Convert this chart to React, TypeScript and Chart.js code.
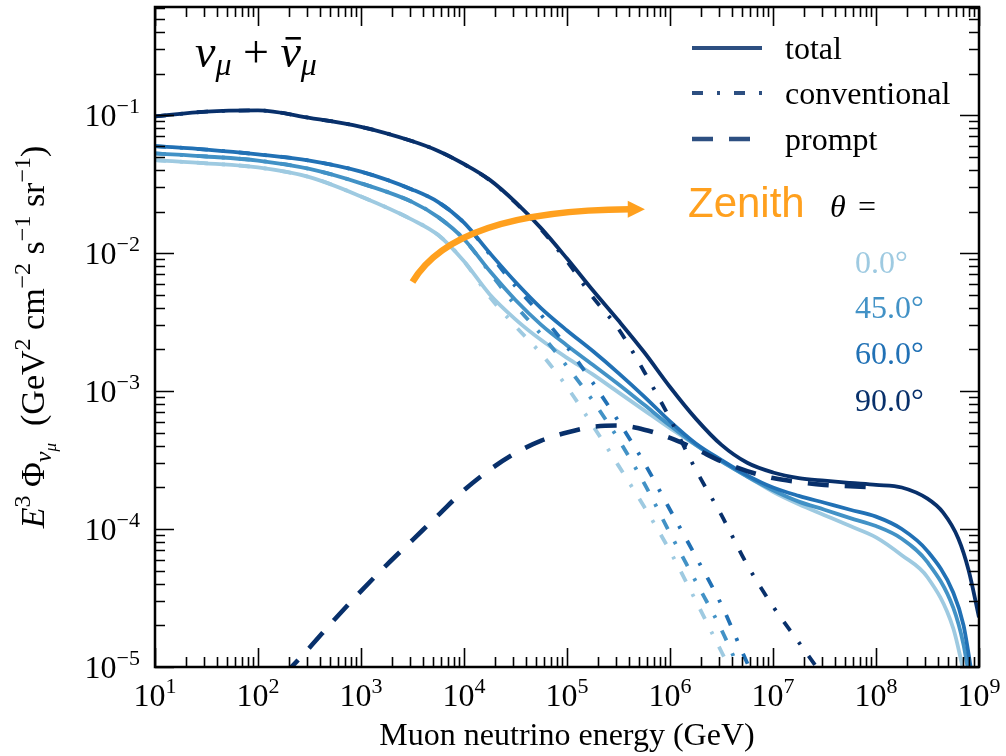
import React, { useEffect, useRef } from "react";
import { Chart, registerables } from "chart.js";

Chart.register(...registerables);

const W = 1006;
const H = 756;
const SERIF = '"Liberation Serif", "Times New Roman", Times, serif';
const SANS = '"Liberation Sans", Arial, Helvetica, sans-serif';

// ---- axes ----
const X_MIN = 10;
const X_MAX = 1e9;
const Y_MIN = 1e-5;
const Y_MAX = 0.607;
const X_TICK_EXPONENTS = [1, 2, 3, 4, 5, 6, 7, 8, 9];
const Y_TICK_EXPONENTS = [-5, -4, -3, -2, -1];
const X_TITLE = "Muon neutrino energy (GeV)";

// ---- labels / colours ----
const ANGLE_LABELS = ["0.0°", "45.0°", "60.0°", "90.0°"];
const ANGLE_COLORS = ["#9ecae1", "#4292c6", "#2171b5", "#08306b"];
const LEGEND_LABELS = ["total", "conventional", "prompt"];
const ORANGE = "#ffa01e";

// ---- data (energy in GeV, E^3 flux) ----
const E_TOTAL_90 = [1e1, 3.16e1, 1e2, 3.16e2, 1e3, 3.16e3, 5.62e3, 1e4, 1.78e4, 3.16e4, 5.62e4, 1e5, 1.78e5, 3.16e5, 5.62e5, 1e6, 1.78e6, 3.16e6, 5.62e6, 1e7, 1.78e7, 3.16e7, 5.62e7, 1e8, 1.78e8, 3.16e8, 4.47e8, 6.31e8, 7.94e8, 1e9];
const FLUX_TOTAL_90 = [0.0977, 0.106, 0.108, 0.0955, 0.0822, 0.0646, 0.055, 0.0442, 0.0339, 0.0234, 0.0151, 0.00912, 0.00537, 0.00324, 0.00191, 0.00107, 6.31e-4, 4.07e-4, 3.02e-4, 2.57e-4, 2.34e-4, 2.24e-4, 2.16e-4, 2.09e-4, 2.0e-4, 1.66e-4, 1.32e-4, 8.51e-5, 5.01e-5, 2.29e-5];

const E_CONV_90 = [1e1, 3.16e1, 1e2, 3.16e2, 1e3, 3.16e3, 5.62e3, 1e4, 1.78e4, 3.16e4, 5.62e4, 1e5, 1.78e5, 3.16e5, 5.62e5, 1e6, 1.78e6, 3.16e6, 5.62e6, 1e7, 1.78e7, 3.16e7];
const FLUX_CONV_90 = [0.0977, 0.106, 0.108, 0.0955, 0.0822, 0.0646, 0.055, 0.0441, 0.0337, 0.0232, 0.0148, 0.00871, 0.00479, 0.00282, 0.00138, 6.31e-4, 2.69e-4, 1.26e-4, 5.5e-5, 2.75e-5, 1.51e-5, 8.32e-6];

const E_PROMPT = [1.78e2, 3.16e2, 5.62e2, 1e3, 1.78e3, 3.16e3, 5.62e3, 1e4, 1.78e4, 3.16e4, 5.62e4, 1e5, 1.78e5, 3.16e5, 5.62e5, 1e6, 1.78e6, 3.16e6, 5.62e6, 1e7, 1.78e7, 3.16e7, 5.62e7, 1e8];
const FLUX_PROMPT = [8.71e-6, 1.38e-5, 2.24e-5, 3.55e-5, 5.5e-5, 8.32e-5, 1.26e-4, 1.91e-4, 2.69e-4, 3.55e-4, 4.37e-4, 5.01e-4, 5.5e-4, 5.62e-4, 5.25e-4, 4.57e-4, 3.8e-4, 3.09e-4, 2.63e-4, 2.34e-4, 2.19e-4, 2.09e-4, 2.04e-4, 2.0e-4];

const E_TOTAL_60 = [1e1, 3.16e1, 1e2, 3.16e2, 1e3, 3.16e3, 5.62e3, 1e4, 1.78e4, 3.16e4, 5.62e4, 1e5, 1.78e5, 3.16e5, 5.62e5, 1e6, 1.78e6, 3.16e6, 5.62e6, 1e7, 1.78e7, 3.16e7, 5.62e7, 1e8, 1.78e8, 3.16e8, 5.62e8, 7.08e8, 8.51e8];
const FLUX_TOTAL_60 = [0.0596, 0.0562, 0.0519, 0.0468, 0.0389, 0.0288, 0.0234, 0.0166, 0.01, 0.00617, 0.00398, 0.00275, 0.00195, 0.00135, 9.12e-4, 6.03e-4, 4.17e-4, 3.16e-4, 2.45e-4, 2.0e-4, 1.74e-4, 1.55e-4, 1.38e-4, 1.23e-4, 1.0e-4, 6.92e-5, 3.47e-5, 2.0e-5, 8.91e-6];

const E_CONV_60 = [1e1, 3.16e1, 1e2, 3.16e2, 1e3, 3.16e3, 5.62e3, 1e4, 1.78e4, 3.16e4, 5.62e4, 1e5, 1.78e5, 3.16e5, 5.62e5, 1e6, 1.78e6, 3.16e6, 5.62e6, 1e7];
const FLUX_CONV_60 = [0.0596, 0.0562, 0.0519, 0.0468, 0.0389, 0.0288, 0.0234, 0.0166, 0.00977, 0.00575, 0.00355, 0.00209, 0.00115, 6.03e-4, 3.02e-4, 1.38e-4, 6.31e-5, 2.82e-5, 1.07e-5, 4.47e-6];

const E_TOTAL_45 = [1e1, 3.16e1, 1e2, 3.16e2, 1e3, 3.16e3, 5.62e3, 1e4, 1.78e4, 3.16e4, 5.62e4, 1e5, 1.78e5, 3.16e5, 5.62e5, 1e6, 1.78e6, 3.16e6, 5.62e6, 1e7, 1.78e7, 3.16e7, 5.62e7, 1e8, 1.78e8, 3.16e8, 5.62e8, 7.08e8, 7.94e8];
const FLUX_TOTAL_45 = [0.0527, 0.0501, 0.0468, 0.0407, 0.032, 0.0234, 0.0182, 0.0126, 0.00741, 0.00457, 0.00302, 0.00214, 0.00155, 0.00112, 7.94e-4, 5.62e-4, 4.07e-4, 3.09e-4, 2.4e-4, 1.91e-4, 1.58e-4, 1.38e-4, 1.2e-4, 1.05e-4, 8.51e-5, 5.75e-5, 2.69e-5, 1.45e-5, 8.91e-6];

const E_CONV_45 = [1e1, 3.16e1, 1e2, 3.16e2, 1e3, 3.16e3, 5.62e3, 1e4, 1.78e4, 3.16e4, 5.62e4, 1e5, 1.78e5, 3.16e5, 5.62e5, 1e6, 1.78e6, 3.16e6, 5.62e6];
const FLUX_CONV_45 = [0.0527, 0.0501, 0.0468, 0.0407, 0.032, 0.0234, 0.0182, 0.0126, 0.00724, 0.00417, 0.00257, 0.00151, 8.51e-4, 4.47e-4, 2.14e-4, 9.33e-5, 4.17e-5, 1.86e-5, 7.08e-6];

const E_TOTAL_0 = [1e1, 3.16e1, 1e2, 3.16e2, 1e3, 3.16e3, 5.62e3, 1e4, 1.78e4, 3.16e4, 5.62e4, 1e5, 1.78e5, 3.16e5, 5.62e5, 1e6, 1.78e6, 3.16e6, 5.62e6, 1e7, 1.78e7, 3.16e7, 5.62e7, 1e8, 1.78e8, 3.16e8, 5.62e8, 7.08e8];
const FLUX_TOTAL_0 = [0.0471, 0.0447, 0.0417, 0.0355, 0.0257, 0.0174, 0.0135, 0.00871, 0.00501, 0.00331, 0.00234, 0.00174, 0.00132, 9.77e-4, 7.24e-4, 5.37e-4, 4.07e-4, 3.09e-4, 2.4e-4, 1.86e-4, 1.51e-4, 1.26e-4, 1.05e-4, 8.71e-5, 6.46e-5, 4.47e-5, 1.91e-5, 9.33e-6];

const E_CONV_0 = [1e1, 3.16e1, 1e2, 3.16e2, 1e3, 3.16e3, 5.62e3, 1e4, 1.78e4, 3.16e4, 5.62e4, 1e5, 1.78e5, 3.16e5, 5.62e5, 1e6, 1.78e6, 3.16e6, 5.62e6];
const FLUX_CONV_0 = [0.0471, 0.0447, 0.0417, 0.0355, 0.0257, 0.0174, 0.0135, 0.00871, 0.00479, 0.00295, 0.00186, 0.00107, 5.62e-4, 2.88e-4, 1.45e-4, 6.92e-5, 3.02e-5, 1.29e-5, 5.62e-6];

// ---- orange zenith arrow (data coordinates: start, control, end, tip) ----
const ARROW_START = [3.16e3, 6.17e-3];
const ARROW_CTRL = [8.13e3, 0.0204];
const ARROW_END = [3.89e5, 0.0208];
const ARROW_TIP = [5.71e5, 0.0208];

const SOLID_W = 3.8;
const CONV_W = 3.8;
const PROMPT_W = 4.6;
const CONV_DASH = [11, 14, 3, 14];
const PROMPT_DASH = [21, 16];

type Seg = { t: string; f: string; dy?: number; bar?: boolean };

function pts(xs: number[], ys: number[]) {
  return xs.map((x, i) => ({ x, y: ys[i] }));
}

function richWidth(ctx: CanvasRenderingContext2D, segs: Seg[]) {
  let w = 0;
  for (const s of segs) {
    ctx.font = s.f;
    w += ctx.measureText(s.t).width;
  }
  return w;
}

function drawRich(ctx: CanvasRenderingContext2D, x: number, y: number, segs: Seg[]) {
  let cx = x;
  for (const s of segs) {
    ctx.font = s.f;
    const w = ctx.measureText(s.t).width;
    ctx.fillText(s.t, cx, y + (s.dy || 0));
    if (s.bar) {
      ctx.fillRect(cx + w * 0.25, y - 30, w * 0.75, 2.6);
    }
    cx += w;
  }
  return cx;
}

const f = (size: number, italic = false, fam = SERIF) => `${italic ? "italic " : ""}${size}px ${fam}`;

const decorPlugin = {
  id: "decor",
  afterDatasetsDraw(chart: any) {
    const { ctx, chartArea: a, scales } = chart;
    const xs = scales.x;
    const ys = scales.y;
    ctx.save();

    // ---- orange arrow ----
    const p0 = [xs.getPixelForValue(ARROW_START[0]), ys.getPixelForValue(ARROW_START[1])];
    const p1 = [xs.getPixelForValue(ARROW_CTRL[0]), ys.getPixelForValue(ARROW_CTRL[1])];
    const p2 = [xs.getPixelForValue(ARROW_END[0]), ys.getPixelForValue(ARROW_END[1])];
    const pt = [xs.getPixelForValue(ARROW_TIP[0]), ys.getPixelForValue(ARROW_TIP[1])];
    ctx.strokeStyle = ORANGE;
    ctx.fillStyle = ORANGE;
    ctx.lineWidth = 6.5;
    ctx.lineCap = "butt";
    ctx.beginPath();
    ctx.moveTo(p0[0], p0[1]);
    ctx.quadraticCurveTo(p1[0], p1[1], p2[0] + 2, p2[1]);
    ctx.stroke();
    const dx = pt[0] - p2[0];
    const dy = pt[1] - p2[1];
    const len = Math.hypot(dx, dy) || 1;
    const nx = -dy / len;
    const ny = dx / len;
    const hw = 8.5;
    ctx.beginPath();
    ctx.moveTo(pt[0], pt[1]);
    ctx.lineTo(p2[0] + nx * hw, p2[1] + ny * hw);
    ctx.lineTo(p2[0] - nx * hw, p2[1] - ny * hw);
    ctx.closePath();
    ctx.fill();

    // ---- frame ----
    ctx.strokeStyle = "#000";
    ctx.lineWidth = 2.5;
    ctx.strokeRect(a.left, a.top, a.right - a.left, a.bottom - a.top);

    // ---- ticks (inward, all four sides) ----
    ctx.lineWidth = 1.6;
    ctx.beginPath();
    const tickX = (v: number, l: number) => {
      const px = Math.round(xs.getPixelForValue(v)) + 0.5;
      ctx.moveTo(px, a.bottom);
      ctx.lineTo(px, a.bottom - l);
      ctx.moveTo(px, a.top);
      ctx.lineTo(px, a.top + l);
    };
    const tickY = (v: number, l: number) => {
      const py = Math.round(ys.getPixelForValue(v)) + 0.5;
      ctx.moveTo(a.left, py);
      ctx.lineTo(a.left + l, py);
      ctx.moveTo(a.right, py);
      ctx.lineTo(a.right - l, py);
    };
    for (const k of X_TICK_EXPONENTS) {
      const base = Math.pow(10, k);
      tickX(base, 19);
      if (base < X_MAX) for (let m = 2; m <= 9; m++) tickX(m * base, 10);
    }
    for (const k of Y_TICK_EXPONENTS) {
      const base = Math.pow(10, k);
      tickY(base, 19);
      for (let m = 2; m <= 9; m++) if (m * base <= Y_MAX) tickY(m * base, 10);
    }
    ctx.stroke();

    // ---- tick labels ----
    ctx.fillStyle = "#000";
    ctx.textBaseline = "alphabetic";
    ctx.textAlign = "left";
    for (const k of X_TICK_EXPONENTS) {
      const segs: Seg[] = [
        { t: "10", f: f(32) },
        { t: String(k), f: f(22), dy: -13 },
      ];
      const w = richWidth(ctx, segs);
      const px = xs.getPixelForValue(Math.pow(10, k));
      drawRich(ctx, px - w / 2, 706, segs);
    }
    for (const k of Y_TICK_EXPONENTS) {
      const segs: Seg[] = [
        { t: "10", f: f(32) },
        { t: "\u2212" + String(-k), f: f(22), dy: -13 },
      ];
      const w = richWidth(ctx, segs);
      const py = ys.getPixelForValue(Math.pow(10, k));
      drawRich(ctx, 140 - w, py + 11, segs);
    }

    // ---- axis titles ----
    ctx.font = f(32);
    const tw = ctx.measureText(X_TITLE).width;
    ctx.fillText(X_TITLE, (a.left + a.right) / 2 - tw / 2, 745);

    const ySegs: Seg[] = [
      { t: "E", f: f(34, true) },
      { t: "3", f: f(24), dy: -14 },
      { t: " \u03A6", f: f(34) },
      { t: "\u03BD", f: f(24, true), dy: 7 },
      { t: "\u03BC", f: f(17, true), dy: 12 },
      { t: "  (GeV", f: f(34) },
      { t: "2", f: f(24), dy: -14 },
      { t: " cm", f: f(34) },
      { t: "\u22122", f: f(24), dy: -14 },
      { t: " s", f: f(34) },
      { t: "\u22121", f: f(24), dy: -14 },
      { t: " sr", f: f(34) },
      { t: "\u22121", f: f(24), dy: -14 },
      { t: ")", f: f(34) },
    ];
    const yw = richWidth(ctx, ySegs);
    ctx.save();
    ctx.translate(44, (a.top + a.bottom) / 2);
    ctx.rotate(-Math.PI / 2);
    drawRich(ctx, -yw / 2, 0, ySegs);
    ctx.restore();

    // ---- plot title  nu_mu + nubar_mu ----
    const tSegs: Seg[] = [
      { t: "\u03BD", f: f(46, true) },
      { t: "\u03BC", f: f(32, true), dy: 8 },
      { t: " + ", f: f(46) },
      { t: "\u03BD", f: f(46, true), bar: true },
      { t: "\u03BC", f: f(32, true), dy: 8 },
    ];
    drawRich(ctx, 195, 67, tSegs);

    // ---- legend ----
    const legendY = [48, 93, 139];
    const legendDash = [[], CONV_DASH, PROMPT_DASH];
    const legendW = [SOLID_W, CONV_W, PROMPT_W];
    for (let i = 0; i < 3; i++) {
      ctx.strokeStyle = "rgba(8,48,107,0.85)";
      ctx.lineWidth = legendW[i];
      ctx.setLineDash(legendDash[i]);
      ctx.beginPath();
      ctx.moveTo(692, legendY[i]);
      ctx.lineTo(762, legendY[i]);
      ctx.stroke();
      ctx.setLineDash([]);
      ctx.fillStyle = "#000";
      ctx.font = f(32);
      ctx.fillText(LEGEND_LABELS[i], 785, legendY[i] + 11);
    }

    // ---- zenith annotation ----
    ctx.fillStyle = ORANGE;
    ctx.font = f(42, false, SANS);
    ctx.fillText("Zenith", 688, 217);
    ctx.fillStyle = "#000";
    ctx.font = f(32, true);
    ctx.fillText("\u03B8", 830, 217);
    ctx.font = f(32);
    ctx.fillText("=", 858, 217);

    const angleY = [273, 318, 364, 411];
    for (let i = 0; i < ANGLE_LABELS.length; i++) {
      ctx.fillStyle = ANGLE_COLORS[i];
      ctx.font = f(32);
      ctx.fillText(ANGLE_LABELS[i], 855, angleY[i]);
    }

    ctx.restore();
  },
};

function line(data: { x: number; y: number }[], color: string, width: number, dash: number[]) {
  return {
    data,
    borderColor: color,
    borderWidth: width,
    borderDash: dash,
    borderCapStyle: "butt" as const,
    borderJoinStyle: "round" as const,
    pointRadius: 0,
    fill: false,
    cubicInterpolationMode: "monotone" as const,
    clip: 0,
  };
}

export default function App() {
  const ref = useRef<HTMLCanvasElement | null>(null);

  useEffect(() => {
    if (!ref.current) return;
    const datasets = [
      line(pts(E_PROMPT, FLUX_PROMPT), ANGLE_COLORS[3], PROMPT_W, PROMPT_DASH),
      line(pts(E_CONV_90, FLUX_CONV_90), ANGLE_COLORS[3], CONV_W, CONV_DASH),
      line(pts(E_TOTAL_90, FLUX_TOTAL_90), ANGLE_COLORS[3], SOLID_W, []),
      line(pts(E_CONV_60, FLUX_CONV_60), ANGLE_COLORS[2], CONV_W, CONV_DASH),
      line(pts(E_TOTAL_60, FLUX_TOTAL_60), ANGLE_COLORS[2], SOLID_W, []),
      line(pts(E_CONV_45, FLUX_CONV_45), ANGLE_COLORS[1], CONV_W, CONV_DASH),
      line(pts(E_TOTAL_45, FLUX_TOTAL_45), ANGLE_COLORS[1], SOLID_W, []),
      line(pts(E_CONV_0, FLUX_CONV_0), ANGLE_COLORS[0], CONV_W, CONV_DASH),
      line(pts(E_TOTAL_0, FLUX_TOTAL_0), ANGLE_COLORS[0], SOLID_W, []),
    ];
    const chart = new Chart(ref.current, {
      type: "line",
      data: { datasets },
      options: {
        responsive: false,
        maintainAspectRatio: false,
        devicePixelRatio: 1,
        animation: false,
        parsing: true,
        layout: { padding: { left: 155, right: W - 979, top: 7, bottom: H - 667 } },
        scales: {
          x: { type: "logarithmic", min: X_MIN, max: X_MAX, display: false },
          y: { type: "logarithmic", min: Y_MIN, max: Y_MAX, display: false },
        },
        plugins: {
          legend: { display: false },
          tooltip: { enabled: false },
          title: { display: false },
        },
        events: [],
      },
      plugins: [decorPlugin],
    } as any);
    return () => chart.destroy();
  }, []);

  return (
    <div style={{ position: "absolute", left: 0, top: 0, width: W, height: H, background: "#fff" }}>
      <canvas ref={ref} width={W} height={H} style={{ display: "block", width: W, height: H }} />
    </div>
  );
}
